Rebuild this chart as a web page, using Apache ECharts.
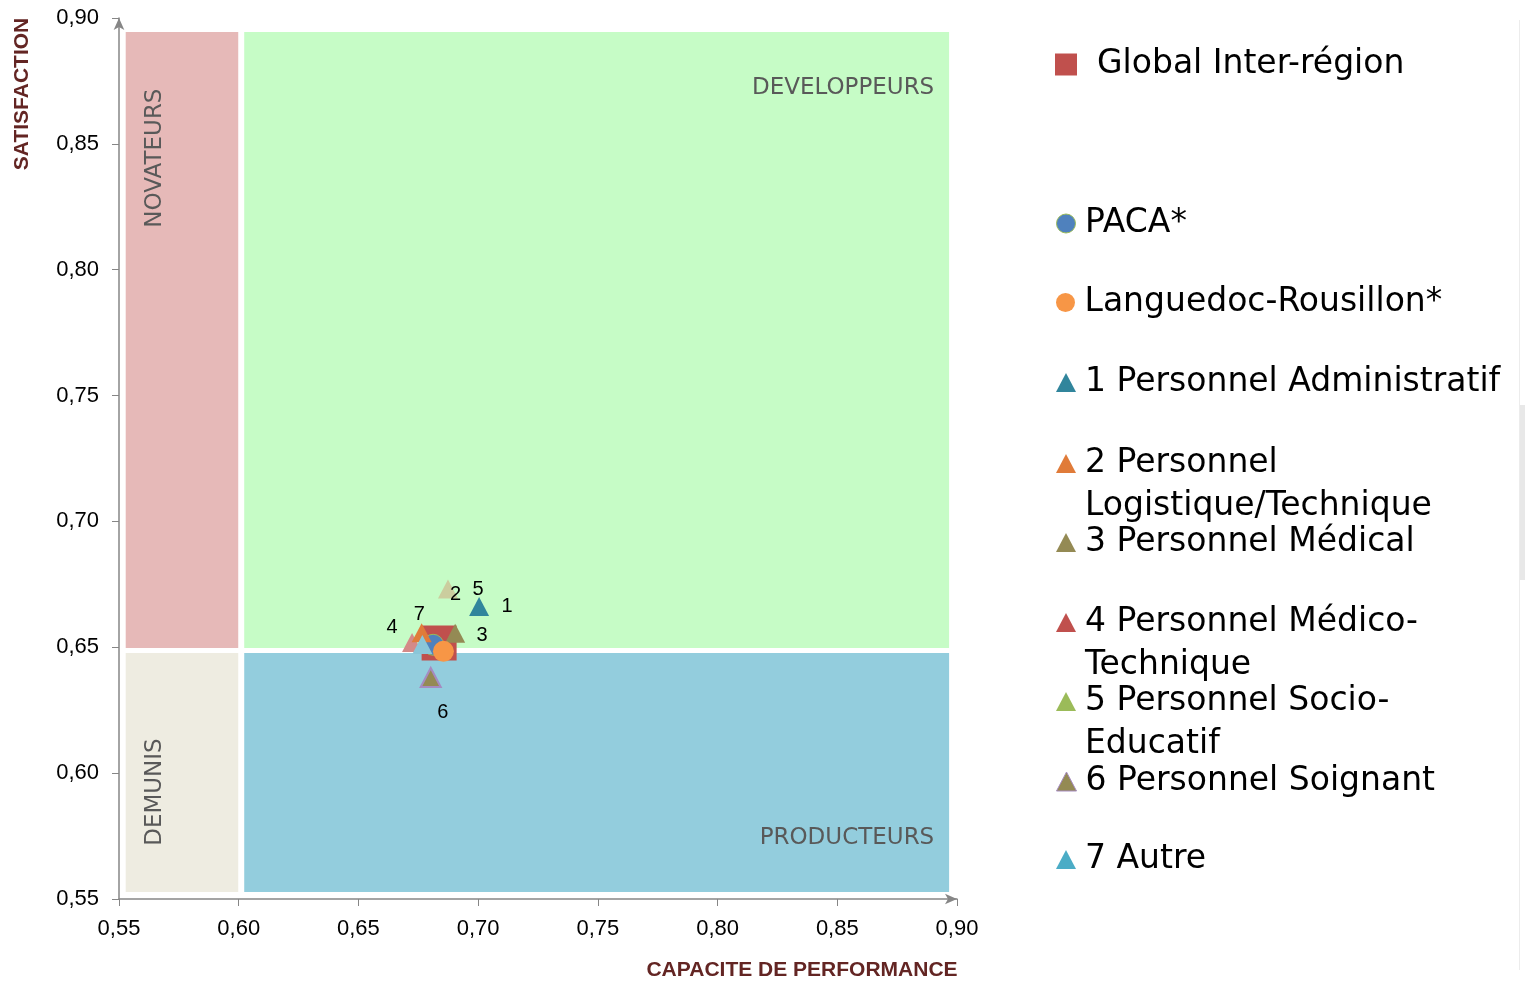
<!DOCTYPE html>
<html>
<head>
<meta charset="utf-8">
<script src="https://cdn.jsdelivr.net/npm/echarts@6/dist/echarts.min.js"></script>
<style>
html,body{margin:0;padding:0;background:#fff;}
#chart{width:1525px;height:982px;}
</style>
</head>
<body>
<div id="chart"></div>
<script>
// ---- data ----
const seriesNames = ['Global Inter-région','PACA*','Languedoc-Rousillon*','1 Personnel Administratif','2 Personnel Logistique/Technique','3 Personnel Médical','4 Personnel Médico-Technique','5 Personnel Socio-Educatif','6 Personnel Soignant','7 Autre'];
const legendTexts = ['Global Inter-région','PACA*','Languedoc-Rousillon*','1 Personnel Administratif','2 Personnel\nLogistique/Technique','3 Personnel Médical','4 Personnel Médico-\nTechnique','5 Personnel Socio-\nEducatif','6 Personnel Soignant','7 Autre'];
const capacite     = [0.6837, 0.6812, 0.6855, 0.7004, 0.6764, 0.6904, 0.6724, 0.6874, 0.6802, 0.6767];
const satisfaction = [0.6517, 0.6510, 0.6484, 0.6662, 0.6558, 0.6556, 0.6519, 0.6732, 0.6380, 0.6511];
const pointLabels  = ['', '', '', '1', '2', '3', '4', '5', '6', '7'];
const zoneNames = ['NOVATEURS', 'DEVELOPPEURS', 'DEMUNIS', 'PRODUCTEURS'];
const axisMin = 0.55, axisMax = 0.90, axisStep = 0.05;
const xAxisTitle = 'CAPACITE DE PERFORMANCE';
const yAxisTitle = 'SATISFACTION';

// ---- styles ----
const symbols = ['rect','circle','circle','triangle','triangle','triangle','triangle','triangle','triangle','triangle'];
const symbolSizes = [35, 21, 21, [20,19], [20,19], [20,19], [20,19], [20,19], [20,19], [20,19]];
const plotStyles = [
  {color:'#c0504d', opacity:1},
  {color:'#4f81bd', borderColor:'#9bbb59', borderWidth:1, opacity:1},
  {color:'#f79646', opacity:1},
  {color:'#31859c', opacity:1},
  {color:'#e07b39', opacity:1},
  {color:'#948a54', opacity:1},
  {color:'#d48a88', opacity:1},
  {color:'#cbcd9e', opacity:1},
  {color:'#948a54', borderColor:'#a58bc0', borderWidth:2, opacity:1},
  {color:'#8ac6d8', opacity:1}
];
const legendStyles = [
  {color:'#c0504d', opacity:1},
  {color:'#4f81bd', borderColor:'#9bbb59', borderWidth:1, opacity:1},
  {color:'#f79646', opacity:1},
  {color:'#31859c', opacity:1},
  {color:'#e07b39', opacity:1},
  {color:'#948a54', opacity:1},
  {color:'#c0504d', opacity:1},
  {color:'#9bbb59', opacity:1},
  {color:'#948a54', borderColor:'#a58bc0', borderWidth:1, opacity:1},
  {color:'#4bacc6', opacity:1}
];
const labelOffsets = [[0,0],[0,0],[0,0],[28,0],[34,-38],[27,2],[-20,-15],[30,1],[12,35],[-3,-30]];
const legendCenters = [64.5, 223.5, 302.5, 382.5, 463.5, 542.5, 622.5, 701.5, 781.5, 859.5];
const drawOrder = [0, 1, 3, 6, 4, 5, 7, 8, 9, 2];
const LH = 43;

const chart = echarts.init(document.getElementById('chart'));

const zoneStyle = (color, text, pos, rot, align) => ({
  itemStyle: {color: color, opacity: 1},
  label: {
    show: true, formatter: text, position: pos, rotate: rot || 0,
    align: align || 'center', verticalAlign: 'middle',
    color: '#595959', fontFamily: 'DejaVu Sans', fontSize: 23
  }
});

const zones = {
  type: 'scatter', data: [], silent: true, z: 1,
  markArea: {
    silent: true,
    data: [
      [Object.assign({xAxis: 0.5528, yAxis: 0.8944}, zoneStyle('#e6b9b8', zoneNames[0], [29,126], 90)), {xAxis: 0.5998, yAxis: 0.6497}],
      [Object.assign({xAxis: 0.6023, yAxis: 0.8944}, zoneStyle('#c6fcc6', zoneNames[1], [690,56], 0, 'right')), {xAxis: 0.8967, yAxis: 0.6497}],
      [Object.assign({xAxis: 0.5528, yAxis: 0.6477}, zoneStyle('#eeece1', zoneNames[2], [29,139], 90)), {xAxis: 0.5998, yAxis: 0.5528}],
      [Object.assign({xAxis: 0.6023, yAxis: 0.6477}, zoneStyle('#93cddd', zoneNames[3], [690,185], 0, 'right')), {xAxis: 0.8967, yAxis: 0.5528}]
    ]
  }
};

const series = [zones];
drawOrder.forEach(function(i){
  series.push({
    type: 'scatter',
    name: seriesNames[i],
    symbol: symbols[i],
    symbolSize: symbolSizes[i],
    itemStyle: plotStyles[i],
    z: 3,
    data: [[capacite[i], satisfaction[i]]],
    label: {
      show: pointLabels[i] !== '',
      formatter: pointLabels[i],
      position: 'inside',
      offset: labelOffsets[i],
      color: '#000', opacity: 1, fontFamily: 'Liberation Sans', fontSize: 20
    },
    emphasis: {disabled: true}
  });
});

const legends = seriesNames.map(function(name, i){
  const twoLine = legendTexts[i].indexOf('\n') >= 0;
  const isGlobal = i === 0;
  return {
    show: true,
    left: isGlobal ? 1055 : 1056,
    top: legendCenters[i] - (twoLine ? 1.5 * LH : LH / 2),
    orient: 'vertical',
    padding: 0,
    itemWidth: isGlobal ? 22 : 20,
    itemHeight: isGlobal ? 22 : 19,
    selectedMode: false,
    data: [{name: name, icon: isGlobal ? 'rect' : symbols[i], itemStyle: legendStyles[i]}],
    formatter: function(){ return twoLine ? '\n' + legendTexts[i] : legendTexts[i]; },
    textStyle: {
      fontFamily: 'DejaVu Sans', fontSize: 33, color: '#000', lineHeight: LH,
      padding: [0, 0, 0, isGlobal ? 15 : 4]
    }
  };
});

const axisCommon = {
  type: 'value', min: axisMin, max: axisMax, interval: axisStep,
  splitLine: {show: false},
  axisLine: {show: true, lineStyle: {color: '#868686', width: 1.5}, symbol: ['none', 'arrow'], symbolSize: [8, 12]},
  axisTick: {show: true, length: 7, lineStyle: {color: '#868686'}},
  axisLabel: {
    color: '#000', fontFamily: 'Liberation Sans', fontSize: 22,
    formatter: function(v){ return v.toFixed(2).replace('.', ','); }
  }
};

chart.setOption({
  animation: false,
  grid: {left: 119, right: 568, top: 18, bottom: 83},
  xAxis: Object.assign({}, axisCommon, {axisLabel: Object.assign({}, axisCommon.axisLabel, {margin: 19})}),
  yAxis: Object.assign({}, axisCommon, {axisLabel: Object.assign({}, axisCommon.axisLabel, {margin: 20})}),
  legend: legends,
  series: series,
  graphic: [
    {type: 'text', x: 22, y: 94, rotation: Math.PI / 2,
     style: {text: yAxisTitle, align: 'center', verticalAlign: 'middle', fill: '#632523', font: 'bold 21px "Liberation Sans"'}},
    {type: 'text', x: 802, y: 970,
     style: {text: xAxisTitle, align: 'center', verticalAlign: 'middle', fill: '#632523', font: 'bold 21px "Liberation Sans"'}},
    {type: 'line', shape: {x1: 1519.5, y1: 20, x2: 1519.5, y2: 970}, style: {stroke: '#ececec', lineWidth: 1}, silent: true},
    {type: 'rect', shape: {x: 1520, y: 405, width: 5, height: 175}, style: {fill: '#e8e8e8'}, silent: true}
  ]
});
</script>
</body>
</html>
